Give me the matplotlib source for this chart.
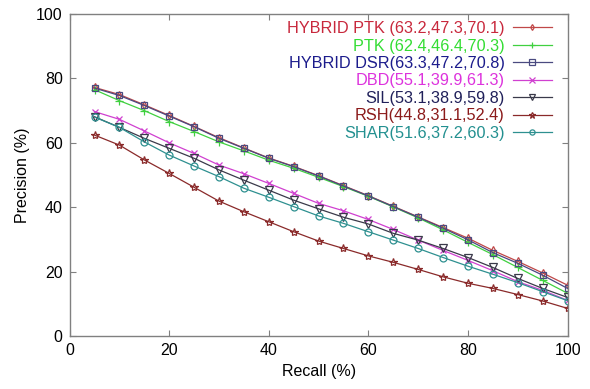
import numpy as np
import matplotlib
matplotlib.use("Agg")
import matplotlib.pyplot as plt

plt.rcParams['font.family'] = ['Liberation Sans', 'DejaVu Sans']

recall = [5, 10, 15, 20, 25, 30, 35, 40, 45, 50, 55, 60, 65, 70, 75, 80, 85, 90, 95, 100]

hybrid_ptk = [77.2, 75.0, 71.8, 68.5, 65.1, 61.6, 58.4, 55.3, 52.7, 49.8, 46.7, 43.6, 40.3, 37.0, 33.7, 30.4, 26.6, 23.2, 19.6, 15.8]
ptk = [76.5, 73.1, 70.0, 66.6, 63.5, 60.3, 57.5, 54.6, 52.1, 49.3, 46.4, 43.4, 40.1, 36.7, 33.0, 29.1, 25.3, 21.3, 17.3, 13.3]
hybrid_dsr = [77.0, 74.7, 71.6, 68.3, 65.0, 61.4, 58.3, 55.2, 52.6, 49.7, 46.6, 43.5, 40.2, 36.9, 33.5, 29.9, 25.9, 22.6, 18.9, 14.8]
dbd = [69.7, 67.3, 63.7, 60.0, 56.7, 53.1, 50.4, 47.4, 44.3, 41.2, 38.9, 36.2, 33.1, 29.8, 26.6, 23.5, 20.3, 16.9, 14.2, 11.1]
sil = [68.1, 64.8, 61.4, 58.3, 55.2, 51.6, 48.4, 45.3, 42.2, 39.5, 36.9, 34.8, 31.9, 29.8, 27.2, 24.4, 21.3, 17.9, 14.8, 12.0]
rsh = [62.4, 59.3, 54.7, 50.5, 46.2, 41.9, 38.6, 35.5, 32.4, 29.5, 27.2, 24.9, 22.9, 20.7, 18.4, 16.4, 14.8, 12.9, 10.9, 8.6]
shar = [68.0, 64.8, 60.3, 56.2, 52.8, 49.5, 45.9, 43.1, 40.2, 37.3, 35.0, 32.4, 29.8, 27.2, 24.4, 21.7, 19.2, 16.6, 13.8, 11.0]

labels = [
    "HYBRID PTK (63.2,47.3,70.1)",
    "PTK (62.4,46.4,70.3)",
    "HYBRID DSR(63.3,47.2,70.8)",
    "DBD(55.1,39.9,61.3)",
    "SIL(53.1,38.9,59.8)",
    "RSH(44.8,31.1,52.4)",
    "SHAR(51.6,37.2,60.3)",
]
series = [hybrid_ptk, ptk, hybrid_dsr, dbd, sil, rsh, shar]

line_colors = ["#c04848", "#40d040", "#4a4a80", "#d040d0", "#3a3a4a", "#8a2a2a", "#2e9090"]
text_colors = ["#c8283c", "#33dd33", "#1c1c8c", "#dd33dd", "#20205a", "#8b1a1a", "#239090"]
markers = ["d", "+", "s", "x", "v", "*", "o"]
msizes = [4, 6, 5, 5, 6, 6, 5]

fig = plt.figure(figsize=(5.9, 3.89), dpi=100)
ax = fig.add_axes([0.118, 0.136, 0.844, 0.828])

handles = []
for ys, lab, lc, m, ms in zip(series, labels, line_colors, markers, msizes):
    h, = ax.plot(recall, ys, color=lc, lw=0.9, marker=m, ms=ms,
                 mfc="none", mec=lc, mew=0.9, label=lab)
    handles.append(h)

ax.set_xlim(0, 100)
ax.set_ylim(0, 100)
ax.set_xticks([0, 20, 40, 60, 80, 100])
ax.set_yticks([0, 20, 40, 60, 80, 100])
ax.tick_params(direction="in", top=True, right=True, length=4, width=0.8,
               color="#808080", labelsize=11.5, pad=5)
for sp in ax.spines.values():
    sp.set_color("#808080")
    sp.set_linewidth(1.0)

ax.set_xlabel("Recall (%)", fontsize=11.5, labelpad=4)
ax.set_ylabel("Precision (%)", fontsize=11.5, labelpad=4)

leg = ax.legend(handles=handles, loc="upper right", bbox_to_anchor=(0.968, 0.978),
                markerfirst=False, frameon=False, fontsize=11.7, handlelength=2.4,
                handletextpad=0.5, labelspacing=0.15, borderpad=0,
                borderaxespad=0, markerscale=0.75)
for t, c in zip(leg.get_texts(), text_colors):
    t.set_color(c)

fig.savefig("out.png", dpi=100)
